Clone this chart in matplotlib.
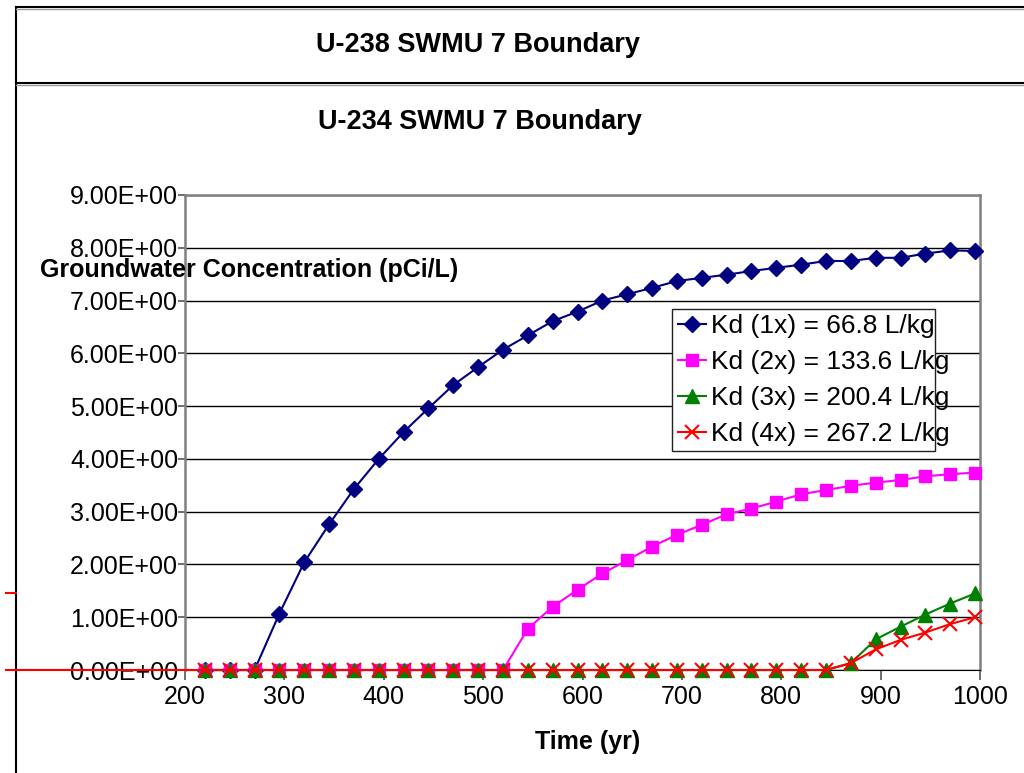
import numpy as np
import matplotlib
matplotlib.use("Agg")
import matplotlib.pyplot as plt
from matplotlib.lines import Line2D
from matplotlib.patches import Rectangle
from matplotlib.ticker import FormatStrFormatter

plt.rcParams['font.family'] = ['Liberation Sans', 'DejaVu Sans']

# time steps (yr)
time = [220, 245, 270, 295, 320, 345, 370, 395, 420, 445, 470, 495, 520, 545, 570, 595,
        620, 645, 670, 695, 720, 745, 770, 795, 820, 845, 870, 895, 920, 945, 970, 995]

kd1 = [0, 0, 0, 1.07, 2.04, 2.76, 3.43, 4.00, 4.51, 4.96, 5.40, 5.74, 6.07, 6.34, 6.61, 6.79,
       7.00, 7.12, 7.24, 7.37, 7.43, 7.49, 7.56, 7.62, 7.68, 7.75, 7.75, 7.81, 7.81, 7.89, 7.95, 7.94]
kd2 = [0, 0, 0, 0, 0, 0, 0, 0, 0, 0, 0, 0, 0, 0.78, 1.20, 1.52,
       1.83, 2.08, 2.34, 2.56, 2.75, 2.95, 3.06, 3.19, 3.33, 3.41, 3.49, 3.55, 3.60, 3.67, 3.71, 3.74]
kd3 = [0, 0, 0, 0, 0, 0, 0, 0, 0, 0, 0, 0, 0, 0, 0, 0,
       0, 0, 0, 0, 0, 0, 0, 0, 0, 0, 0.13, 0.58, 0.82, 1.05, 1.26, 1.45]
kd4 = [0, 0, 0, 0, 0, 0, 0, 0, 0, 0, 0, 0, 0, 0, 0, 0,
       0, 0, 0, 0, 0, 0, 0, 0, 0, 0, 0.13, 0.39, 0.57, 0.71, 0.87, 1.00]

labels = ["Kd (1x) = 66.8 L/kg", "Kd (2x) = 133.6 L/kg",
          "Kd (3x) = 200.4 L/kg", "Kd (4x) = 267.2 L/kg"]

W, H = 1024, 773
fig = plt.figure(figsize=(W / 100, H / 100), dpi=100)
fig.patch.set_facecolor('white')

def fx(px):
    return px / W

def fy(py):
    return 1 - py / H

# frame of the chart behind (U-238)
for (x0, x1, y0, y1) in [(16, W, 7, 7), (16, W, 83, 83), (16, 16, 7, H)]:
    fig.add_artist(Line2D([fx(x0), fx(x1)], [fy(y0), fy(y1)], color='black', lw=1.5,
                          transform=fig.transFigure))
fig.add_artist(Line2D([fx(16), fx(W)], [fy(9), fy(9)], color='#999999', lw=1, transform=fig.transFigure))
fig.add_artist(Line2D([fx(16), fx(W)], [fy(85), fy(85)], color='#999999', lw=1, transform=fig.transFigure))
fig.add_artist(Line2D([fx(6), fx(16)], [fy(593), fy(593)], color='red', lw=1.5, transform=fig.transFigure))
fig.add_artist(Line2D([fx(6), fx(210)], [fy(670), fy(670)], color='red', lw=1.5, transform=fig.transFigure,
                      zorder=5))

fig.text(fx(478), fy(45), "U-238 SWMU 7 Boundary", ha='center', va='center',
         fontsize=19.5, fontweight='bold')

ax = fig.add_axes([fx(185), fy(670), fx(980) - fx(185), fy(195) - fy(670)])

ax.plot(time, kd1, color='#000080', marker='D', ms=8.5, lw=1.5, clip_on=False, zorder=3)
ax.plot(time, kd2, color='#FF00FF', marker='s', ms=8, lw=1.5, clip_on=False, zorder=3)
ax.plot(time, kd3, color='#008000', marker='^', ms=10, lw=1.5, clip_on=False, zorder=3)
ax.plot(time, kd4, color='#FF0000', marker='x', ms=9.5, mew=1.5, lw=1.5, clip_on=False, zorder=3)

ax.set_xlim(200, 1000)
ax.set_ylim(0, 9)
ax.set_xticks([200, 300, 400, 500, 600, 700, 800, 900, 1000])
ax.set_yticks(np.arange(0, 10, 1))
ax.yaxis.set_major_formatter(FormatStrFormatter('%.2E'))
ax.grid(axis='y', color='black', lw=1)
ax.set_axisbelow(True)
ax.tick_params(axis='both', labelsize=18, width=1.2, color='#555555', direction='out')
ax.tick_params(axis='y', pad=0, length=5)
ax.tick_params(axis='x', pad=4, length=7)
for s in ['left', 'right', 'top']:
    ax.spines[s].set_color('#808080')
    ax.spines[s].set_linewidth(1.8)
ax.spines['bottom'].set_color('black')

fig.text(fx(480), fy(122), "U-234 SWMU 7 Boundary", ha='center', va='center',
         fontsize=19.5, fontweight='bold')
fig.text(fx(40), fy(270), "Groundwater Concentration (pCi/L)", ha='left', va='center',
         fontsize=18, fontweight='bold')
fig.text(fx(588), fy(742), "Time (yr)", ha='center', va='center',
         fontsize=18, fontweight='bold')

# legend box drawn separately, the text runs past it as in the original
ax.add_patch(Rectangle((fx(672), fy(451)), fx(935) - fx(672), fy(309) - fy(451),
                       transform=fig.transFigure, facecolor='white', edgecolor='#222222',
                       lw=1, zorder=4, clip_on=False))
leg = ax.legend(labels, loc='upper left', bbox_to_anchor=(fx(673), fy(309)),
                bbox_transform=fig.transFigure, frameon=False, fontsize=19,
                handlelength=1.05, handletextpad=0.2, labelspacing=0.45,
                borderpad=0.2, borderaxespad=0)
leg.set_zorder(6)

fig.savefig("out.png", dpi=100)
